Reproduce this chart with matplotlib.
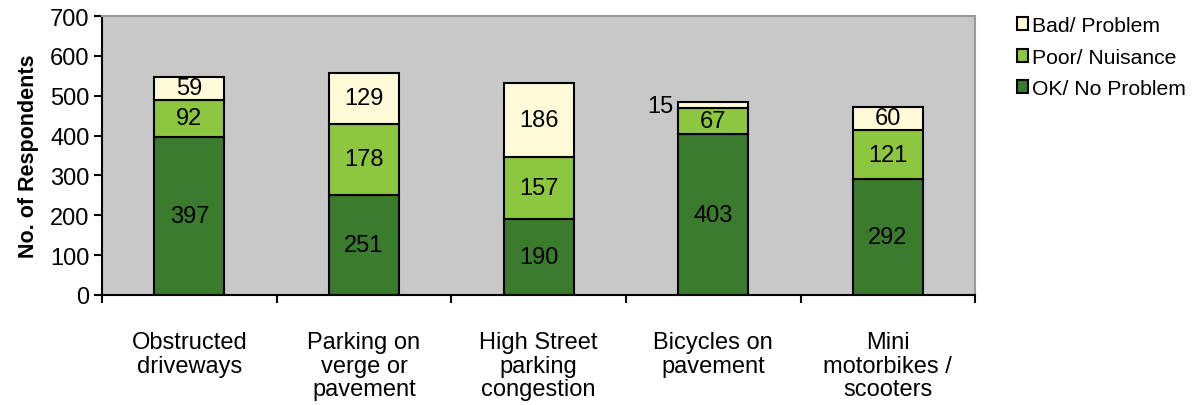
import matplotlib.pyplot as plt
import numpy as np

plt.rcParams['font.family'] = ['Liberation Sans', 'DejaVu Sans']

categories = ["Obstructed\ndriveways", "Parking on\nverge or\npavement",
              "High Street\nparking\ncongestion", "Bicycles on\npavement",
              "Mini\nmotorbikes /\nscooters"]
ok = [397, 251, 190, 403, 292]
poor = [92, 178, 157, 67, 121]
bad = [59, 129, 186, 15, 60]

dark_green = "#3A7B2E"
light_green = "#8DC63F"
cream = "#FFFBD9"

fig = plt.figure(figsize=(11.95, 4.06), dpi=100)
ax = fig.add_axes([0.0854, 0.271, 0.7306, 0.687])
ax.set_facecolor("#C8C8C8")

x = np.arange(len(categories))
w = 0.4
b1 = ax.bar(x, ok, w, color=dark_green, edgecolor="black", linewidth=1.5, label="OK/ No Problem")
b2 = ax.bar(x, poor, w, bottom=ok, color=light_green, edgecolor="black", linewidth=1.5, label="Poor/ Nuisance")
bottom3 = np.array(ok) + np.array(poor)
b3 = ax.bar(x, bad, w, bottom=bottom3, color=cream, edgecolor="black", linewidth=1.5, label="Bad/ Problem")

fs = 17
for i in range(len(categories)):
    ax.text(x[i], ok[i] / 2, str(ok[i]), ha="center", va="center", fontsize=fs)
    ax.text(x[i], ok[i] + poor[i] / 2, str(poor[i]), ha="center", va="center", fontsize=fs)
    if bad[i] < 30:
        ax.text(x[i] - w / 2 - 0.03, bottom3[i] + bad[i] / 2 - 4, str(bad[i]),
                ha="right", va="center", fontsize=fs)
    else:
        ax.text(x[i], bottom3[i] + bad[i] / 2, str(bad[i]), ha="center", va="center", fontsize=fs)

ax.set_xlim(-0.5, len(categories) - 0.5)
ax.set_ylim(0, 700)
ax.set_yticks(range(0, 701, 100))
ax.set_xticks(x)
ax.set_xticklabels(categories, fontsize=fs, linespacing=1.1, va="top")
ax.set_xticks(np.arange(-0.5, len(categories), 1), minor=True)
ax.tick_params(axis="x", which="major", length=0, pad=26)
ax.tick_params(axis="x", which="minor", length=6, width=1.5, direction="out")
ax.tick_params(axis="y", labelsize=fs, length=6, width=1.5, direction="out", pad=3)
ax.set_ylabel("No. of Respondents", fontsize=15.5, fontweight="bold", labelpad=8)

for s in ["top", "right"]:
    ax.spines[s].set_color("#999999")
    ax.spines[s].set_linewidth(1.5)
for s in ["left", "bottom"]:
    ax.spines[s].set_color("black")
    ax.spines[s].set_linewidth(1.5)

handles = [b3, b2, b1]
leg = fig.legend(handles, [h.get_label() for h in handles], loc="upper left",
                 bbox_to_anchor=(0.835, 1.005), frameon=False, fontsize=15.2,
                 handlelength=0.55, handleheight=0.55, handletextpad=0.15, labelspacing=0.6)

fig.savefig("out.png", dpi=100)
